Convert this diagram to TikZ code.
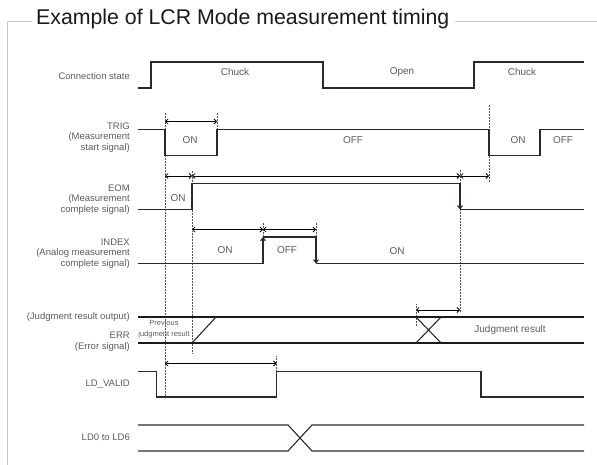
\documentclass[tikz,border=0pt]{standalone}
\usepackage{fontspec}
\setmainfont{Liberation Sans}
\usetikzlibrary{arrows.meta,positioning,calc}
\definecolor{wave}{HTML}{2E2926}
\definecolor{lbl}{HTML}{5C5C5C}
\definecolor{framegray}{HTML}{C8C8C8}
\tikzset{
  sig/.style={draw=wave, line width=1.1pt, line join=miter},
  bus/.style={draw=black!90, line width=2pt},
  guide/.style={draw=wave!80, densely dotted, line width=0.5pt},
  dimarrow/.style={draw=black, line width=0.8pt, {Straight Barb[length=2.5pt,width=5pt]}-{Straight Barb[length=2.5pt,width=5pt]}},
  edgearrow/.style={-{Straight Barb[length=3pt,width=5pt]}},
  sname/.style={anchor=east, align=right, inner sep=0pt, text=lbl, font=\fontsize{9.5}{10.5}\selectfont},
  wtext/.style={inner sep=0pt, text=lbl, font=\fontsize{10}{11}\selectfont},
}

\begin{document}
\begin{tikzpicture}[x=1pt, y=-1pt]
    \useasboundingbox (0,0) rectangle (597,465);
    % Frame and title
    \node[anchor=base west, inner sep=0pt, text=black!90, font=\fontsize{21.3}{24}\selectfont] (title) at (36,25) {Example of LCR Mode measurement timing};
    \draw[framegray, line width=1.4pt] (31.5,21.7) -- (7.5,21.7) -- (7.5,465);
    \draw[framegray, line width=1.4pt] (455,21.7) -- (597,21.7);

    % Signal names
    \node[sname] (nconn) at (130,76) {Connection state};
    \node[sname] (ntrig) at (130,137.5) {TRIG\\(Measurement\\start signal)};
    \node[sname] (neom) at (130,199.5) {EOM\\(Measurement\\complete signal)};
    \node[sname] (nindex) at (130,253.5) {INDEX\\(Analog measurement\\complete signal)};
    \node[sname] (njudge) at (130,317) {(Judgment result output)};
    \node[sname] (nerr) at (130,341.5) {ERR\\(Error signal)};
    \node[sname] (nvalid) at (130,384) {LD\_VALID};
    \node[sname] (nld) at (130,437) {LD0 to LD6};

    % Dotted guides
    \draw[guide] (165,113) -- (165,397);
    \draw[guide] (217,113) -- (217,130);
    \draw[guide] (489,105) -- (489,182);
    \draw[guide] (192,171) -- (192,354);
    \draw[guide] (460,170) -- (460,312);
    \draw[guide] (263,223) -- (263,237);
    \draw[guide] (316,223) -- (316,237);
    \draw[guide] (416,304) -- (416,326);
    \draw[guide] (276.5,356) -- (276.5,372);

    % Connection state
    \draw[sig] (138,88) -- (151,88) -- (151,62) -- (323,62) -- (323,88) -- (474,88) -- (474,62) -- (584,62);
    \node[wtext] (chuck1) at (235,72) {Chuck};
    \node[wtext] (open) at (402,72) {Open};
    \node[wtext] (chuck2) at (522,72) {Chuck};

    % TRIG
    \draw[sig] (138,129.5) -- (165,129.5) -- (165,155.5) -- (217,155.5) -- (217,129.5) -- (489,129.5) -- (489,155.5) -- (540,155.5) -- (540,129.5) -- (584,129.5);
    \draw[dimarrow] (165,121.5) -- (217,121.5);
    \node[wtext] (trigon1) at (190,140) {ON};
    \node[wtext] (trigoff1) at (353,140) {OFF};
    \node[wtext] (trigon2) at (518,140) {ON};
    \node[wtext] (trigoff2) at (563,140) {OFF};

    % EOM
    \draw[dimarrow] (165,176) -- (192,176);
    \draw[dimarrow] (192,176) -- (460,176);
    \draw[dimarrow] (460,176) -- (489,176);
    \draw[sig, edgearrow] (138,209.5) -- (192,209.5) -- (192,183.5) -- (460,183.5) -- (460,209.5);
    \draw[sig] (460,209.5) -- (584,209.5);
    \node[wtext] (eomon) at (178,198) {ON};

    % INDEX
    \draw[dimarrow] (192,229.5) -- (263,229.5);
    \draw[dimarrow] (263,229.5) -- (316,229.5);
    \draw[sig, edgearrow] (138,263.5) -- (263,263.5) -- (263,237);
    \draw[sig, edgearrow] (263,237) -- (316,237) -- (316,263.5);
    \draw[sig] (316,263.5) -- (584,263.5);
    \node[wtext] (idxon1) at (225,250) {ON};
    \node[wtext] (idxoff) at (287,250) {OFF};
    \node[wtext] (idxon2) at (397,251) {ON};

    % Judgment result / ERR
    \draw[dimarrow] (416,310) -- (460,310);
    \draw[bus] (138,317) -- (584,317);
    \draw[bus] (138,343) -- (584,343);
    \draw[sig] (192,343) -- (216,317);
    \draw[sig] (416,317) -- (441,343) (416,343) -- (441,317);
    \node[wtext, align=center, font=\fontsize{7.5}{11.5}\selectfont] (prev) at (164,329) {Previous\\judgment result};
    \node[wtext] (result) at (510,330) {Judgment result};

    % LD_VALID
    \draw[dimarrow] (165,363.5) -- (276.5,363.5);
    \draw[sig] (138,371.5) -- (156.5,371.5) -- (156.5,397) -- (276.5,397) -- (276.5,371.5) -- (481,371.5) -- (481,397) -- (584,397);

    % LD0 to LD6
    \draw[sig] (138,425) -- (288,425) -- (312,451) -- (584,451);
    \draw[sig] (138,451) -- (288,451) -- (312,425) -- (584,425);
\end{tikzpicture}
\end{document}
